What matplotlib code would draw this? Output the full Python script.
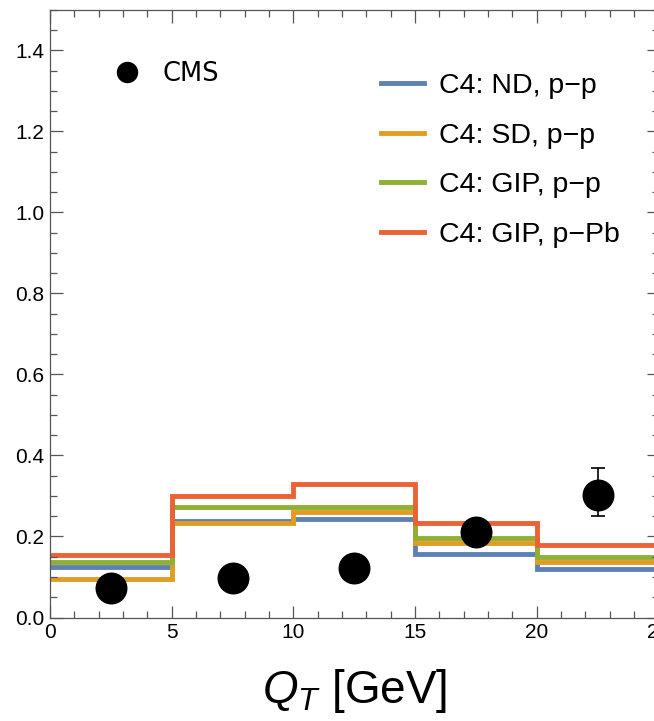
import matplotlib
matplotlib.use("Agg")
import matplotlib.pyplot as plt
from matplotlib.lines import Line2D
from matplotlib.ticker import MultipleLocator
import numpy as np

plt.rcParams['font.family'] = ['Liberation Sans', 'DejaVu Sans']
plt.rcParams['mathtext.fontset'] = 'custom'
plt.rcParams['mathtext.it'] = 'Liberation Sans:italic'
plt.rcParams['mathtext.rm'] = 'Liberation Sans'

# bin edges (GeV)
bin_edges = [0, 5, 10, 15, 20, 25]
# model histograms
nd_pp = [0.124, 0.239, 0.244, 0.156, 0.120]
sd_pp = [0.096, 0.234, 0.260, 0.184, 0.137]
gip_pp = [0.137, 0.272, 0.272, 0.195, 0.149]
gip_ppb = [0.154, 0.300, 0.329, 0.234, 0.178]
series_labels = ["C4: ND, p\u2212p", "C4: SD, p\u2212p", "C4: GIP, p\u2212p", "C4: GIP, p\u2212Pb"]
series_colors = ["#5E81B5", "#E19C24", "#8FB032", "#EB6235"]

# CMS data
cms_x = [2.5, 7.5, 12.5, 17.5, 22.5]
cms_y = [0.072, 0.097, 0.123, 0.210, 0.303]
cms_err_lo = [0.01, 0.01, 0.01, 0.01, 0.052]
cms_err_hi = [0.01, 0.01, 0.01, 0.01, 0.067]

fig = plt.figure(figsize=(6.54, 7.21), dpi=100)
W, H = 654, 721
x0, x1 = 50, 658.5
y0, y1 = 617.5, 9.8
ax = fig.add_axes([x0 / W, (H - y0) / H, (x1 - x0) / W, (y0 - y1) / H])

handles = []
for vals, lab, col in zip([nd_pp, sd_pp, gip_pp, gip_ppb], series_labels, series_colors):
    ax.stairs(vals, bin_edges, color=col, lw=3.5, baseline=None)
    handles.append(Line2D([], [], color=col, lw=3.5, label=lab))

ax.errorbar(cms_x, cms_y, yerr=[cms_err_lo, cms_err_hi], fmt='o', color='black',
            ms=22, ecolor='black', elinewidth=1.2, capsize=5, capthick=1.2, zorder=5)

ax.set_xlim(0, 25)
ax.set_ylim(0, 1.5)
ax.xaxis.set_major_locator(MultipleLocator(5))
ax.xaxis.set_minor_locator(MultipleLocator(1))
ax.yaxis.set_major_locator(MultipleLocator(0.2))
ax.yaxis.set_minor_locator(MultipleLocator(0.05))
ax.set_yticks(np.arange(0, 1.41, 0.2))
ax.set_yticklabels([f"{v:.1f}" for v in np.arange(0, 1.41, 0.2)])
ax.tick_params(which='both', direction='in', top=True, right=True, color='#555555',
               labelsize=15, width=0.9)
ax.tick_params(which='major', length=9, pad=4)
ax.tick_params(which='minor', length=5)
for s in ax.spines.values():
    s.set_color('#555555')
    s.set_linewidth(0.9)

ax.set_xlabel(r"$Q_T$ [GeV]", fontsize=33, labelpad=18)

leg1 = ax.legend(handles=handles, loc='upper left', bbox_to_anchor=(0.5435, 0.896),
                 frameon=False, fontsize=20.5, handlelength=1.52, handletextpad=0.54,
                 labelspacing=0.83, borderpad=0, borderaxespad=0)
ax.add_artist(leg1)
cms_handle = Line2D([], [], marker='o', color='black', ls='none', ms=14.4)
leg2 = ax.legend(handles=[cms_handle], labels=["CMS"], loc='upper left',
                 bbox_to_anchor=(0.105, 0.915), frameon=False,
                 prop={'family': 'DejaVu Sans', 'size': 18.5}, handlelength=1.0,
                 handletextpad=0.9, borderpad=0, borderaxespad=0)

fig.savefig("out.png", dpi=100)
